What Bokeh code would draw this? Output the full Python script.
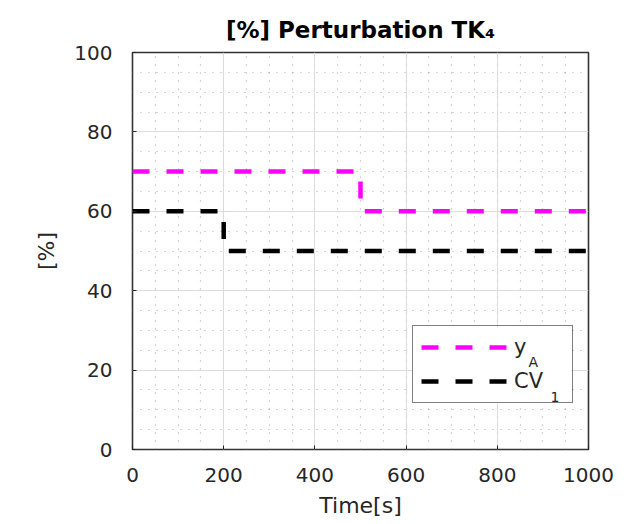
from bokeh.plotting import figure
from bokeh.models import (Range1d, SingleIntervalTicker, Legend, LegendItem, Label,
                          BoxAnnotation)
from bokeh.embed import file_html
from bokeh.resources import INLINE

# ---- data ----
t_yA = [0, 500, 500, 1000]
yA = [70, 70, 60, 60]
t_cv = [0, 200, 200, 1000]
cv1 = [60, 60, 50, 50]

title_text = "[%] Perturbation TK\u2084"
x_label = "Time[s]"
y_label = "[%]"
legend_names = ["y", "CV"]
legend_subs = ["A", "1"]

FONT = "DejaVu Sans"
TXT = "#262626"

p = figure(width=636, height=524, output_backend="svg", toolbar_location=None,
           x_range=Range1d(0, 1000), y_range=Range1d(0, 100),
           min_border_left=132, min_border_right=48, min_border_top=52,
           min_border_bottom=75)

p.title.text = title_text
p.title.align = "center"
p.title.text_font = FONT
p.title.text_font_size = "23px"
p.title.text_font_style = "bold"
p.title.text_color = "#000000"
p.title.standoff = 20

p.outline_line_color = "#333333"
p.outline_line_width = 1.6
p.background_fill_color = "white"
p.border_fill_color = "white"

p.xaxis.ticker = SingleIntervalTicker(interval=200, num_minor_ticks=4)
p.yaxis.ticker = SingleIntervalTicker(interval=20, num_minor_ticks=4)

for ax in (p.xaxis[0], p.yaxis[0]):
    ax.axis_line_color = None
    ax.major_tick_in = 4
    ax.major_tick_out = 0
    ax.major_tick_line_color = "#262626"
    ax.minor_tick_line_color = None
    ax.major_label_text_font = FONT
    ax.major_label_text_font_size = "20px"
    ax.major_label_text_color = TXT
    ax.axis_label_text_font = FONT
    ax.axis_label_text_font_size = "22px"
    ax.axis_label_text_font_style = "normal"
    ax.axis_label_text_color = TXT

p.xaxis.axis_label = x_label
p.yaxis.axis_label = y_label
p.xaxis.major_label_standoff = 14
p.yaxis.major_label_standoff = 16
p.xaxis.axis_label_standoff = 8
p.yaxis.axis_label_standoff = 12

for g in (p.xgrid[0], p.ygrid[0]):
    g.grid_line_color = "#dcdcdc"
    g.grid_line_width = 1
    g.minor_grid_line_color = "#9a9a9a"
    g.minor_grid_line_dash = "1 7"
    g.minor_grid_line_width = 1.2
    g.minor_grid_line_alpha = 0.8

r1 = p.line(t_yA, yA, line_color="#ff00ff", line_width=4.5, line_dash="17 17")
r2 = p.line(t_cv, cv1, line_color="#000000", line_width=4.5, line_dash="17 17")

# white backing for the legend (legend itself is transparent so the
# subscript labels drawn inside it stay visible)
p.add_layout(BoxAnnotation(left=280, right=439, bottom=46, top=122,
                           left_units="screen", right_units="screen",
                           bottom_units="screen", top_units="screen",
                           fill_color="white", fill_alpha=1, line_color=None,
                           level="annotation"))

leg = Legend(items=[LegendItem(label=legend_names[0], renderers=[r1]),
                    LegendItem(label=legend_names[1], renderers=[r2])],
             location=(280, 46))
leg.glyph_width = 87
leg.glyph_height = 26
leg.label_height = 26
leg.label_width = 50
leg.label_standoff = 6
leg.padding = 8
leg.spacing = 8
leg.margin = 0
leg.border_line_color = "#000000"
leg.border_line_width = 1.5
leg.background_fill_alpha = 0
leg.label_text_font = FONT
leg.label_text_font_size = "21px"
leg.label_text_color = TXT
p.add_layout(leg, "center")

sub_style = dict(x_units="screen", y_units="screen", text_font=FONT,
                 text_font_size="14px", text_color=TXT, text_baseline="alphabetic")
p.add_layout(Label(x=396, y=88, text=legend_subs[0], **sub_style))
p.add_layout(Label(x=418, y=53, text=legend_subs[1], **sub_style))

open("out.html", "w").write(file_html(p, INLINE))
